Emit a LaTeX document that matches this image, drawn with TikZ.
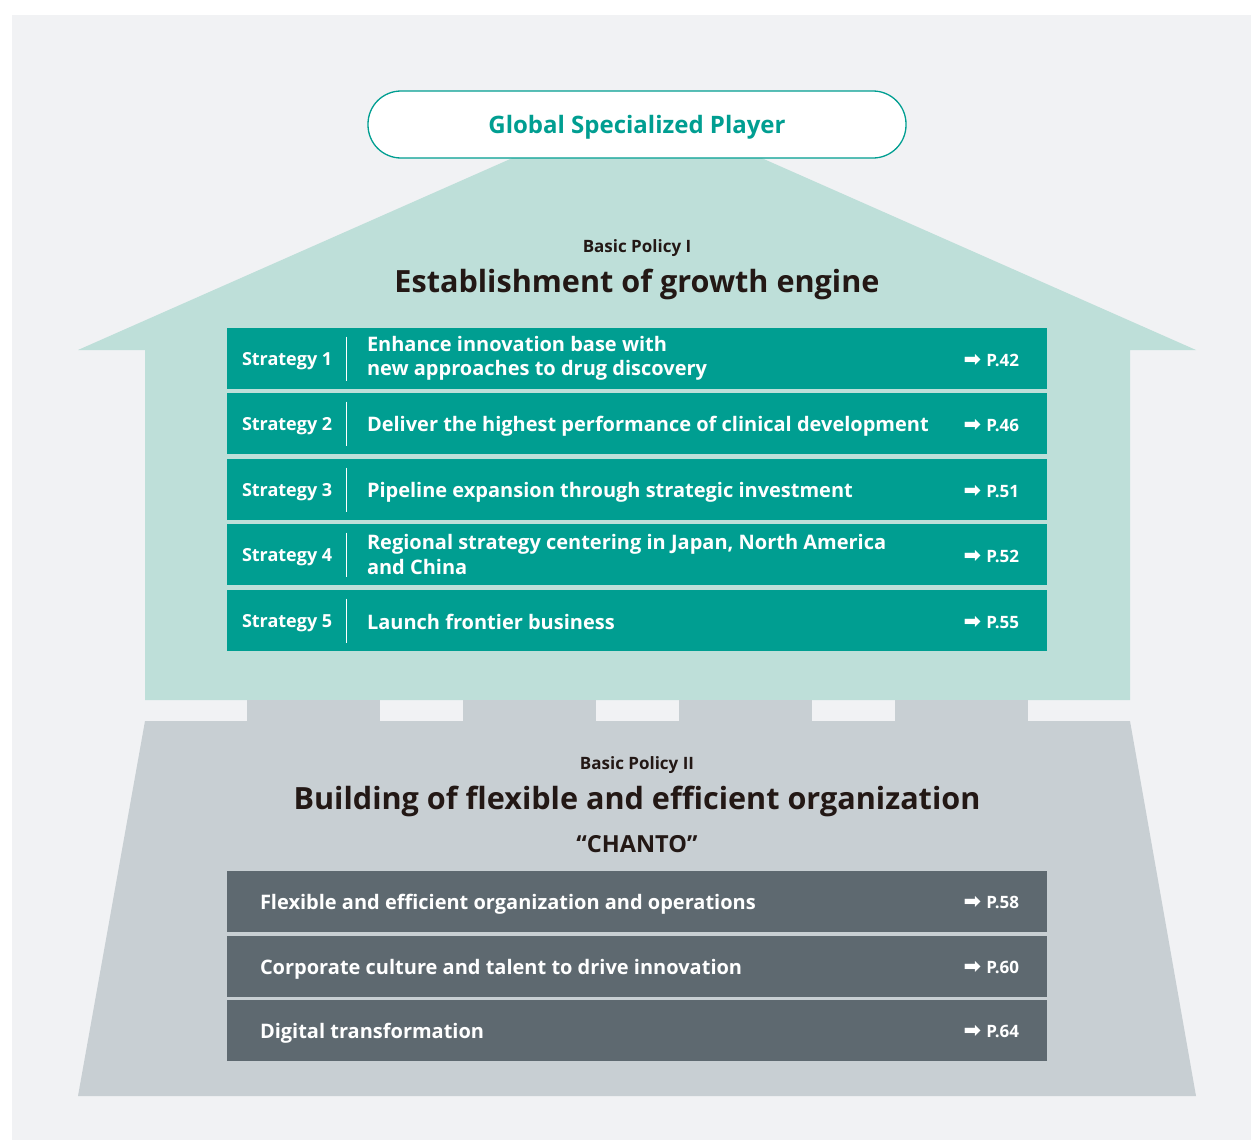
\documentclass[tikz,border=0pt]{standalone}
\usepackage{fontspec}
\setmainfont{Open Sans}
\newfontfamily\arrowfont{DejaVu Sans}
\usetikzlibrary{calc}
\definecolor{cPanel}{HTML}{F1F2F4}
\definecolor{cRoof}{HTML}{BEDFD9}
\definecolor{cTeal}{HTML}{009E91}
\definecolor{cBase}{HTML}{C8CFD3}
\definecolor{cDark}{HTML}{5E6970}
\definecolor{cInk}{HTML}{231815}
\tikzset{
  stratrow/.style={fill=cTeal, draw=none, minimum width=820pt, minimum height=61pt, inner sep=0pt},
  orgrow/.style={fill=cDark, draw=none, minimum width=820pt, minimum height=61pt, inner sep=0pt},
  stratlabel/.style={text=white, font=\bfseries\fontsize{18}{20}\selectfont, anchor=west, inner sep=0pt},
  rowtext/.style={text=white, font=\bfseries\fontsize{20}{24.5}\selectfont, anchor=west, align=left, inner sep=0pt},
  pageref/.style={text=white, font=\bfseries\fontsize{17}{20}\selectfont, anchor=east, inner sep=0pt},
  dividerline/.style={draw=white, line width=1.2pt},
  pillbox/.style={fill=white, draw=cTeal, line width=1.3pt, rounded corners=33pt, minimum width=538pt, minimum height=67pt},
  polsmall/.style={text=cInk, font=\bfseries\fontsize{17}{20}\selectfont},
  polbig/.style={text=cInk, font=\bfseries\fontsize{30.6}{36}\selectfont},
  polmid/.style={text=cInk, font=\bfseries\fontsize{23.5}{28}\selectfont},
}
\newcommand{\pg}[1]{{\arrowfont\fontsize{21}{22}\selectfont ➡}\hspace{5pt}#1}
\begin{document}
\begin{tikzpicture}[x=1pt,y=-1pt]
\useasboundingbox (0,0) rectangle (1252,1140);
\fill[white] (0,0) rectangle (1252,1140);
\fill[cPanel] (12,15) rectangle (1251,1140);
% roof and body
\fill[cRoof] (78,350) -- (637,103) -- (1196,350) -- (1130,350) -- (1130,700) -- (145,700) -- (145,350) -- cycle;
% pillars
\foreach \px in {247,463,679,895}{\fill[cBase] (\px,700) rectangle ++(133,21);}
% base
\fill[cBase] (145,721) -- (1130,721) -- (1196,1096) -- (78,1096) -- cycle;
% goal
\node[pillbox] (goal) at (637,124.5) {};
\node[text=cTeal, font=\bfseries\fontsize{24}{28}\selectfont] (goaltext) at ($(goal.center)+(0,3)$) {Global Specialized Player};
% titles
\node[polsmall] (bp1) at (637,248) {Basic Policy I};
\node[polbig] (t1) at (637,284) {Establishment of growth engine};
\node[polsmall] (bp2) at (637,765) {Basic Policy II};
\node[polbig] (t2) at (637,801) {Building of flexible and efficient organization};
\node[polmid] (chanto) at (637,844) {“CHANTO”};
% strategies
\foreach \n/\y/\dy/\txt/\p in {
  1/358.5/0/{Enhance innovation base with\\new approaches to drug discovery}/42,
  2/423.5/3/{Deliver the highest performance of clinical development}/46,
  3/489.5/3/{Pipeline expansion through strategic investment}/51,
  4/554.5/0/{Regional strategy centering in Japan, North America\\and China}/52,
  5/620.5/1/{Launch frontier business}/55}{
  \node[stratrow] (s\n) at (637,\y) {};
  \node[stratlabel] (s\n l) at ($(s\n.west)+(15,3)$) {Strategy \n};
  \draw[dividerline] ($(s\n.west)+(120,-22)$) -- ($(s\n.west)+(120,22)$);
  \node[rowtext] (s\n t) at ($(s\n.west)+(140,\dy)$) {\txt};
  \node[pageref] (s\n p) at ($(s\n.east)+(-28,2)$) {\pg{P.\p}};
}
% organization rows
\foreach \n/\y/\txt/\p in {
  1/901.5/{Flexible and efficient organization and operations}/58,
  2/966.5/{Corporate culture and talent to drive innovation}/60,
  3/1030.5/{Digital transformation}/64}{
  \node[orgrow] (g\n) at (637,\y) {};
  \node[rowtext] (g\n t) at ($(g\n.west)+(33,3)$) {\txt};
  \node[pageref] (g\n p) at ($(g\n.east)+(-28,1)$) {\pg{P.\p}};
}
\end{tikzpicture}
\end{document}
